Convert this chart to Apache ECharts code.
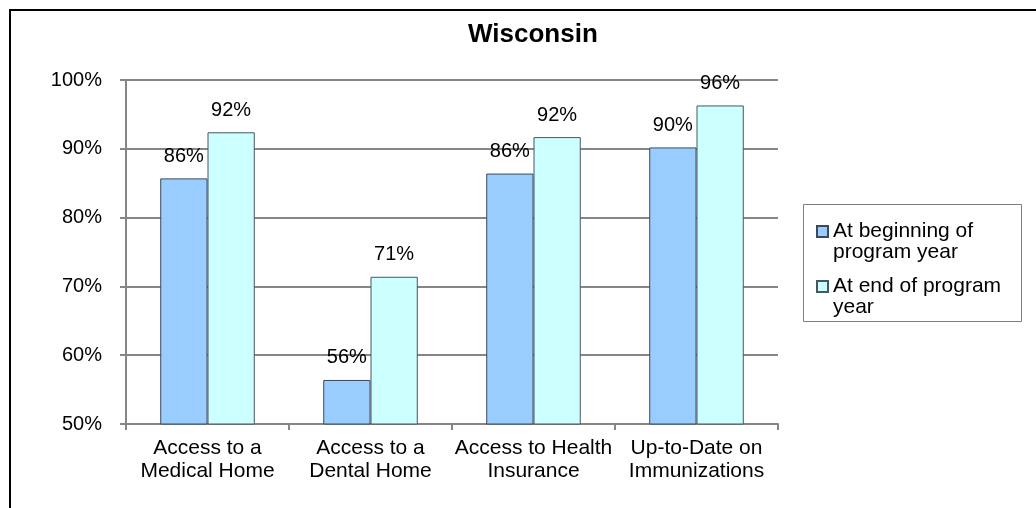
<!DOCTYPE html>
<html>
<head>
<meta charset="utf-8">
<script src="https://cdn.jsdelivr.net/npm/echarts@6/dist/echarts.min.js"></script>
<style>
  html, body { margin: 0; padding: 0; background: #fff; }
  #chart { width: 1036px; height: 508px; }
</style>
</head>
<body>
<div id="chart"></div>
<script>
// 分类
const categories = ['Access to a\nMedical Home', 'Access to a\nDental Home', 'Access to Health\nInsurance', 'Up-to-Date on\nImmunizations']
// 两组数据 (%)
const beginValues = [85.7, 56.4, 86.4, 90.2]
const endValues = [92.4, 71.4, 91.7, 96.3]
const seriesNames = ['At beginning of\nprogram year', 'At end of program\nyear']
const yTicks = { min: 50, max: 100, interval: 10 }

const font = "'Liberation Sans', Arial, sans-serif"
const gray = '#868686'

const myChart = echarts.init(document.querySelector('#chart'))

function barLabel() {
    return {
        show: true,
        position: 'top',
        distance: 12,
        color: '#000',
        fontSize: 20,
        fontFamily: font,
        formatter: p => Math.round(p.value) + '%'
    }
}

const option = {
    backgroundColor: '#fff',
    animation: false,
    title: {
        text: 'Wisconsin',
        left: 463,
        top: 17,
        textStyle: { fontSize: 26, fontWeight: 'bold', color: '#000', fontFamily: font }
    },
    grid: { left: 126, right: 258, top: 80, bottom: 84 },
    legend: {
        orient: 'vertical',
        left: 816,
        top: 200,
        padding: 0,
        itemGap: -8,
        itemWidth: 11,
        itemHeight: 11,
        icon: 'rect',
        selectedMode: false,
        // 前面加空行, 让图标对齐第一行文字
        formatter: name => '\n' + name,
        textStyle: {
            fontSize: 21,
            fontFamily: font,
            color: '#000',
            lineHeight: 21
        },
        data: seriesNames
    },
    xAxis: {
        type: 'category',
        data: categories,
        axisLine: { lineStyle: { color: gray, width: 2 } },
        axisTick: { show: true, length: 6, lineStyle: { color: gray, width: 2 } },
        axisLabel: { color: '#000', fontSize: 21, fontFamily: font, lineHeight: 23, margin: 13, interval: 0 }
    },
    yAxis: {
        type: 'value',
        min: yTicks.min,
        max: yTicks.max,
        interval: yTicks.interval,
        axisLine: { show: true, lineStyle: { color: gray, width: 2 } },
        axisTick: { show: true, length: 6, lineStyle: { color: gray, width: 2 } },
        splitLine: { lineStyle: { color: gray, width: 2 } },
        axisLabel: { color: '#000', fontSize: 20, fontFamily: font, margin: 24, formatter: '{value}%' }
    },
    series: [
        {
            name: seriesNames[0],
            type: 'bar',
            data: beginValues,
            barGap: 0,
            barCategoryGap: '42%',
            itemStyle: { color: '#99CCFF', borderColor: '#3b4a5a', borderWidth: 1 },
            label: barLabel()
        },
        {
            name: seriesNames[1],
            type: 'bar',
            data: endValues,
            barGap: 0,
            barCategoryGap: '42%',
            itemStyle: { color: '#CCFFFF', borderColor: '#4a5560', borderWidth: 1 },
            label: barLabel()
        }
    ],
    graphic: [
        {
            type: 'rect',
            silent: true,
            shape: { x: 10, y: 10, width: 1100, height: 600 },
            style: { fill: 'none', stroke: '#000', lineWidth: 2 }
        },
        {
            type: 'rect',
            silent: true,
            shape: { x: 803.5, y: 204.5, width: 218, height: 117 },
            style: { fill: 'none', stroke: '#7f7f7f', lineWidth: 1 }
        }
    ]
}
myChart.setOption(option)
</script>
</body>
</html>
